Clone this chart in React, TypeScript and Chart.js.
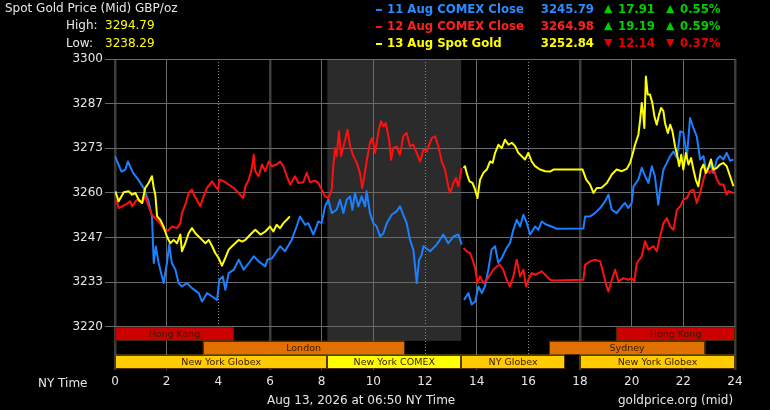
import React, { useEffect, useRef } from 'react';
import { Chart, registerables } from 'chart.js';

Chart.register(...registerables);

// ---------- data ----------
const blueHours = [0, 0.25, 0.4, 0.5, 0.7, 0.9, 1.1, 1.3, 1.43, 1.5, 1.58, 1.69, 1.88, 2.01, 2.1, 2.2, 2.34, 2.46, 2.59, 2.79, 2.98, 3.24, 3.37, 3.56, 3.76, 3.95, 4.04, 4.17, 4.27, 4.4, 4.6, 4.79, 4.98, 5.18, 5.37, 5.56, 5.82, 5.9, 6.08, 6.39, 6.58, 6.84, 7.03, 7.16, 7.36, 7.48, 7.68, 7.87, 8.0, 8.13, 8.26, 8.39, 8.58, 8.71, 8.84, 8.97, 9.1, 9.19, 9.29, 9.42, 9.55, 9.68, 9.74, 9.87, 10.0, 10.13, 10.26, 10.39, 10.52, 10.71, 10.9, 11.03, 11.16, 11.29, 11.42, 11.55, 11.68, 11.77, 11.87, 11.94, 12.2, 12.45, 12.71, 12.9, 13.1, 13.29, 13.42, 13.46, 13.51, 13.68, 13.81, 13.94, 14.07, 14.2, 14.32, 14.45, 14.58, 14.71, 14.84, 14.97, 15.16, 15.29, 15.42, 15.55, 15.68, 15.81, 15.94, 16.07, 16.26, 16.39, 16.52, 16.71, 16.9, 17.1, 18.13, 18.2, 18.39, 18.58, 18.78, 18.97, 19.1, 19.23, 19.42, 19.62, 19.74, 19.87, 20.0, 20.07, 20.26, 20.39, 20.52, 20.65, 20.78, 20.9, 21.03, 21.1, 21.23, 21.36, 21.49, 21.62, 21.75, 21.88, 22.0, 22.14, 22.26, 22.39, 22.52, 22.65, 22.78, 22.9, 23.03, 23.16, 23.3, 23.42, 23.55, 23.68, 23.81, 23.94];
const blueValues = [3271, 3266.4, 3267, 3269.4, 3266, 3264, 3261.6, 3257.5, 3253, 3239.1, 3244, 3239.1, 3233.1, 3239.1, 3244.6, 3239.1, 3237.1, 3233.1, 3232.1, 3233.1, 3231.6, 3230.1, 3227.6, 3230.1, 3229.1, 3228.1, 3234.1, 3235.1, 3231.1, 3236.1, 3237.1, 3240.1, 3237.1, 3239.1, 3241.1, 3239.6, 3238.1, 3240.1, 3240.5, 3244.1, 3242.6, 3246, 3250, 3253, 3250.5, 3251, 3247.6, 3251.5, 3251, 3256, 3258, 3254, 3255, 3258, 3254, 3258, 3259, 3255, 3260, 3256, 3259, 3256, 3260.5, 3254, 3251, 3250, 3247, 3248, 3251, 3253.5, 3254.5, 3256, 3253.5, 3251, 3246, 3243, 3233.1, 3240, 3241.5, 3244.1, 3242.6, 3244.6, 3247.6, 3245, 3247, 3247.6, 3244.6, null, 3228.1, 3230.1, 3226.7, 3227.6, 3232.1, 3230.1, 3232.1, 3237.1, 3243.1, 3244.1, 3239.1, 3240.6, 3243.6, 3245.1, 3249, 3252, 3250, 3253.5, 3251, 3247.6, 3250, 3249, 3251.5, 3250.5, 3250, 3249.3, 3249.4, 3253, 3253, 3254, 3255.5, 3257.5, 3259.5, 3255, 3254, 3256, 3257, 3255.5, 3257, 3262, 3264, 3267.5, 3265, 3263, 3268, 3265, 3256.5, 3261, 3267, 3269, 3271, 3272.4, 3270.5, 3278.4, 3278, 3271, 3282.4, 3279.4, 3276.9, 3270, 3271, 3266, 3269, 3266, 3270, 3271, 3270, 3272, 3269.6, 3270];

const redHours = [0.05, 0.14, 0.4, 0.59, 0.66, 0.85, 1.05, 1.17, 1.3, 1.43, 1.56, 1.69, 1.82, 1.95, 2.08, 2.21, 2.4, 2.53, 2.59, 2.72, 2.85, 2.98, 3.08, 3.17, 3.3, 3.43, 3.56, 3.76, 3.88, 3.99, 4.04, 4.21, 4.4, 4.6, 4.79, 4.96, 5.05, 5.18, 5.3, 5.37, 5.43, 5.56, 5.69, 5.82, 5.95, 6.07, 6.26, 6.39, 6.52, 6.65, 6.78, 6.97, 7.1, 7.29, 7.42, 7.55, 7.74, 7.87, 8.0, 8.13, 8.26, 8.39, 8.45, 8.52, 8.58, 8.67, 8.75, 8.88, 9.0, 9.1, 9.23, 9.36, 9.48, 9.57, 9.65, 9.74, 9.87, 9.96, 10.07, 10.2, 10.3, 10.39, 10.48, 10.61, 10.69, 10.77, 10.9, 11.03, 11.16, 11.29, 11.42, 11.55, 11.68, 11.81, 11.94, 12.07, 12.26, 12.39, 12.52, 12.65, 12.78, 12.9, 12.97, 13.1, 13.2, 13.29, 13.42, 13.46, 13.49, 13.61, 13.74, 13.84, 13.94, 14.03, 14.13, 14.26, 14.39, 14.52, 14.65, 14.78, 14.9, 15.03, 15.16, 15.29, 15.42, 15.55, 15.68, 15.81, 15.91, 16.0, 16.13, 16.26, 16.39, 16.52, 16.65, 16.84, 16.97, 18.13, 18.2, 18.39, 18.58, 18.78, 18.9, 19.03, 19.1, 19.23, 19.36, 19.49, 19.68, 19.87, 20.0, 20.1, 20.2, 20.39, 20.52, 20.65, 20.84, 20.97, 21.1, 21.23, 21.36, 21.49, 21.62, 21.75, 21.88, 22.0, 22.14, 22.26, 22.39, 22.52, 22.65, 22.78, 22.9, 23.03, 23.16, 23.3, 23.42, 23.55, 23.68, 23.74, 23.94];
const redValues = [3258, 3255.5, 3256.5, 3257.5, 3256, 3258, 3257, 3259, 3256, 3253.5, 3252.5, 3251.5, 3250, 3248.5, 3249, 3250, 3249.5, 3251, 3254, 3256.5, 3260, 3261, 3259, 3258, 3256, 3259, 3261.5, 3263.5, 3262, 3261, 3264, 3263.5, 3262.5, 3261.5, 3260, 3258.5, 3262, 3264, 3267.5, 3271.4, 3266.5, 3265, 3268.5, 3266.5, 3269.4, 3268, 3268.5, 3269.4, 3268, 3265, 3262.5, 3265, 3263, 3263.2, 3266, 3263.2, 3263.7, 3263, 3261, 3259, 3258.5, 3261, 3268, 3273.4, 3271, 3278.4, 3271, 3275, 3278.9, 3274, 3271, 3269, 3266, 3261.5, 3265, 3269.4, 3275, 3276.4, 3272, 3278.4, 3281.4, 3279.9, 3280.9, 3275.9, 3269.9, 3273.4, 3273.9, 3271.4, 3276.9, 3277.9, 3273.9, 3274.4, 3271.9, 3269.4, 3273, 3272.4, 3276.4, 3276.9, 3273.9, 3269.4, 3266.9, 3262, 3260, 3263, 3264.5, 3262, 3267.5, null, 3243.6, 3242.6, 3242.1, 3240.1, 3237.6, 3233.1, 3235.1, 3233.1, 3234.1, 3235.6, 3237.1, 3238.1, 3238.6, 3237.1, 3234.1, 3232.1, 3235.1, 3240.1, 3235.1, 3237.1, 3232.1, 3234.1, 3236.1, 3235.6, 3236.1, 3236.6, 3235.6, 3234.1, 3233.9, 3234.1, 3238.6, 3239.6, 3240.1, 3239.6, 3236.1, 3232.1, 3230.6, 3234.1, 3237.1, 3233.6, 3234.6, 3234.1, 3234.6, 3233.6, 3239.1, 3241.1, 3245.6, 3243.1, 3244.1, 3242.6, 3247, 3251, 3252.5, 3250, 3249, 3255, 3256, 3258, 3258.5, 3260.5, 3261, 3257, 3260, 3264, 3267, 3266, 3267.5, 3264, 3262.5, 3262.5, 3259.5, 3260.5, 3260];

const yellowHours = [0.01, 0.14, 0.34, 0.53, 0.66, 0.79, 0.92, 1.05, 1.17, 1.3, 1.43, 1.5, 1.56, 1.63, 1.75, 1.88, 2.01, 2.14, 2.27, 2.4, 2.53, 2.59, 2.72, 2.85, 2.98, 3.11, 3.24, 3.37, 3.5, 3.63, 3.76, 3.88, 4.01, 4.14, 4.27, 4.4, 4.6, 4.79, 4.92, 5.05, 5.24, 5.43, 5.63, 5.82, 6.0, 6.13, 6.26, 6.39, 6.52, 6.65, 6.77, 6.8, 13.49, 13.55, 13.61, 13.72, 13.84, 13.94, 14.03, 14.13, 14.26, 14.39, 14.52, 14.62, 14.71, 14.84, 14.97, 15.1, 15.23, 15.36, 15.49, 15.61, 15.74, 15.87, 16.0, 16.13, 16.26, 16.45, 16.65, 16.84, 16.97, 18.1, 18.24, 18.39, 18.52, 18.65, 18.84, 19.04, 19.23, 19.42, 19.62, 19.81, 19.94, 20.03, 20.13, 20.26, 20.33, 20.39, 20.45, 20.49, 20.55, 20.62, 20.71, 20.8, 20.88, 20.97, 21.06, 21.14, 21.23, 21.29, 21.4, 21.49, 21.58, 21.68, 21.76, 21.84, 21.92, 22.0, 22.1, 22.2, 22.3, 22.39, 22.48, 22.58, 22.68, 22.78, 22.87, 22.97, 23.07, 23.16, 23.3, 23.42, 23.55, 23.68, 23.81, 23.94];
const yellowValues = [3260.5, 3257.5, 3260.2, 3260.5, 3259.5, 3260, 3258, 3257, 3261.5, 3263, 3265, 3261.5, 3259.5, 3253, 3252, 3250, 3247, 3245, 3246, 3245, 3247.6, 3242.6, 3245, 3248, 3249.5, 3248, 3247, 3246, 3245, 3246, 3244.1, 3242.1, 3240.6, 3238.29, 3240.6, 3243.1, 3244.6, 3246, 3245.5, 3246, 3247.6, 3249, 3247.6, 3248.5, 3250, 3248.5, 3250.5, 3249.5, 3251, 3252, 3253, null, 3267.5, 3268, 3266, 3263.5, 3263, 3261, 3258.5, 3263.9, 3266, 3267, 3269.4, 3269, 3271.9, 3274.4, 3273.4, 3275.9, 3274.4, 3275, 3274, 3272, 3271, 3270, 3272, 3269.4, 3268, 3267, 3266.5, 3266.4, 3267, 3267, 3264, 3262.5, 3260, 3261.5, 3261.6, 3263, 3265.5, 3267, 3266.5, 3267.2, 3269, 3271.4, 3274.4, 3277.4, 3281.9, 3286.9, 3283.4, 3279.4, 3294.79, 3289.4, 3289.4, 3286.9, 3282.9, 3280.4, 3283.4, 3285.4, 3284.4, 3280.9, 3277.9, 3280.4, 3278.4, 3273.9, 3271.4, 3268, 3271.4, 3267, 3271.9, 3268.5, 3270.4, 3267, 3264, 3262, 3267, 3268.5, 3266, 3267.5, 3270, 3267, 3267.5, 3268.5, 3269, 3268, 3265, 3262];

const xTickValues = [0, 2, 4, 6, 8, 10, 12, 14, 16, 18, 20, 22, 24];
const yTickValues = [3220, 3233.33, 3246.67, 3260, 3273.33, 3286.67, 3300];
const yTickLabels = ['3220', '3233', '3247', '3260', '3273', '3287', '3300'];

const sessionLabels = ['Hong Kong', 'Hong Kong', 'London', 'Sydney', 'New York Globex', 'New York COMEX', 'NY Globex', 'New York Globex'];
const sessionRows = [0, 0, 1, 1, 2, 2, 2, 2];
const sessionStarts = [0, 19.4, 3.4, 16.8, 0, 8.22, 13.4, 18];
const sessionEnds = [4.6, 24, 11.2, 22.85, 8.22, 13.4, 17.42, 24];

const legendNames = ['11 Aug COMEX Close', '12 Aug COMEX Close', '13 Aug Spot Gold'];
const legendPrices = ['3245.79', '3264.98', '3252.84'];
const legendChanges = ['17.91', '19.19', '12.14'];
const legendPercents = ['0.55%', '0.59%', '0.37%'];
const legendUp = [true, true, false];
const highValue = '3294.79';
const lowValue = '3238.29';

// ---------- styles ----------
const sessionColors = ['#cc0000', '#cc0000', '#e07000', '#e07000', '#ffcc00', '#ffff00', '#ffcc00', '#ffcc00'];
const seriesColors = ['#1a80ff', '#ff1010', '#ffff00'];
const legendTextColors = ['#2a8cff', '#ff2020', '#ffff00'];
const darkGridHours = [0, 6, 18, 24];
const dottedGridHours = [4, 12, 16];
const FONT = '"DejaVu Sans", Verdana, sans-serif';

const toPoints = (h: number[], v: (number | null)[]) => h.map((x, i) => ({ x, y: v[i] }));

const sessionsPlugin = {
  id: 'sessions',
  beforeDraw(chart: any) {
    const { ctx, chartArea, scales } = chart;
    const x = scales.x, y = scales.y;
    const top0 = y.getPixelForValue(3220);
    const rowH = (chartArea.bottom - top0) / 3.1;
    const i = sessionLabels.indexOf('New York COMEX');
    const x0 = x.getPixelForValue(sessionStarts[i]);
    const x1 = x.getPixelForValue(sessionEnds[i]);
    ctx.save();
    ctx.fillStyle = '#2b2b2b';
    ctx.fillRect(x0, chartArea.top, x1 - x0, top0 + rowH - chartArea.top);
    ctx.restore();
  },
  beforeDatasetsDraw(chart: any) {
    const { ctx, chartArea, scales } = chart;
    const x = scales.x, y = scales.y;
    const top0 = y.getPixelForValue(3220);
    const rowH = (chartArea.bottom - top0) / 3.1;
    ctx.save();
    ctx.font = '9.5px ' + FONT;
    ctx.textAlign = 'center';
    ctx.textBaseline = 'middle';
    sessionLabels.forEach((label, i) => {
      const x0 = x.getPixelForValue(sessionStarts[i]);
      const x1 = x.getPixelForValue(sessionEnds[i]);
      const t = top0 + sessionRows[i] * rowH;
      ctx.fillStyle = sessionColors[i];
      ctx.fillRect(x0, t, x1 - x0, rowH);
      ctx.strokeStyle = 'rgba(70,40,0,0.9)';
      ctx.lineWidth = 1;
      ctx.strokeRect(Math.round(x0) + 0.5, Math.round(t) + 0.5, Math.round(x1 - x0) - 1, Math.round(rowH) - 1);
      ctx.fillStyle = '#3a1800';
      ctx.fillText(label, (x0 + x1) / 2, t + rowH / 2 + 0.5);
    });
    ctx.restore();
  },
};

export default function App() {
  const canvasRef = useRef<HTMLCanvasElement | null>(null);

  useEffect(() => {
    document.body.style.margin = '0';
    document.body.style.background = '#000';
    const canvas = canvasRef.current;
    if (!canvas) return;
    const chart = new Chart(canvas, {
      type: 'line',
      data: {
        datasets: [
          { label: legendNames[2], data: toPoints(yellowHours, yellowValues) as any, borderColor: seriesColors[2] },
          { label: legendNames[1], data: toPoints(redHours, redValues) as any, borderColor: seriesColors[1] },
          { label: legendNames[0], data: toPoints(blueHours, blueValues) as any, borderColor: seriesColors[0] },
        ],
      },
      options: {
        responsive: false,
        animation: false,
        spanGaps: false,
        parsing: false as any,
        elements: {
          point: { radius: 0, hoverRadius: 0 },
          line: { borderWidth: 2, tension: 0, borderJoinStyle: 'round', fill: false },
        },
        layout: { padding: { top: 59, right: 35, left: 0, bottom: 0 } },
        plugins: {
          legend: { display: false },
          tooltip: { enabled: false },
          title: { display: false },
        },
        scales: {
          x: {
            type: 'linear',
            min: 0,
            max: 24,
            afterBuildTicks: (s: any) => { s.ticks = xTickValues.map((v) => ({ value: v })); },
            afterFit: (s: any) => { s.height = 40; },
            ticks: {
              color: '#e6e6e6',
              font: { family: FONT, size: 12 },
              padding: 5,
              maxRotation: 0,
              autoSkip: false,
              callback: (v: any) => String(v),
            },
            grid: {
              drawTicks: false,
              color: (c: any) => (darkGridHours.includes(c.tick?.value) ? '#3c3c3c' : dottedGridHours.includes(c.tick?.value) ? '#8a8a8a' : '#6a6a6a'),
              lineWidth: (c: any) => (darkGridHours.includes(c.tick?.value) ? 2.5 : 1),
            },
            border: {
              display: false,
              dash: (c: any) => (dottedGridHours.includes(c.tick?.value) ? [1, 2] : []),
            },
          },
          y: {
            type: 'linear',
            min: 3207.16,
            max: 3300,
            afterBuildTicks: (s: any) => { s.ticks = yTickValues.map((v) => ({ value: v })); },
            afterFit: (s: any) => { s.width = 115; },
            ticks: {
              color: '#e6e6e6',
              font: { family: FONT, size: 12 },
              padding: 2,
              autoSkip: false,
              callback: (_v: any, i: number) => yTickLabels[i],
            },
            grid: { color: '#6a6a6a', lineWidth: 1, tickLength: 10, drawTicks: true },
            border: { display: false },
          },
        },
      } as any,
      plugins: [sessionsPlugin],
    });
    return () => chart.destroy();
  }, []);

  const txt = (extra: any) => ({
    position: 'absolute' as const,
    whiteSpace: 'nowrap' as const,
    lineHeight: '14px',
    fontSize: 12,
    ...extra,
  });
  const rowTops = [2, 19, 36];

  return (
    <div style={{ position: 'fixed', left: 0, top: 0, width: 770, height: 410, background: '#000', overflow: 'hidden', fontFamily: FONT }}>
      <canvas ref={canvasRef} width={770} height={410} style={{ position: 'absolute', left: 0, top: 0 }} />
      <div style={txt({ left: 5, top: 1, color: '#e6e6e6' })}>Spot Gold Price (Mid) GBP/oz</div>
      <div style={txt({ left: 66, top: 18, color: '#e6e6e6' })}>High:</div>
      <div style={txt({ left: 105, top: 18, color: '#ffff00' })}>{highValue}</div>
      <div style={txt({ left: 66, top: 36, color: '#e6e6e6' })}>Low:</div>
      <div style={txt({ left: 105, top: 36, color: '#ffff00' })}>{lowValue}</div>
      {legendNames.map((name, i) => (
        <React.Fragment key={name}>
          <div style={{ position: 'absolute', left: 376, top: rowTops[i] + 7, width: 6, height: 2, background: seriesColors[i] }} />
          <div style={txt({ left: 387, top: rowTops[i], color: legendTextColors[i], fontWeight: 'bold', fontSize: 11.7 })}>{name}</div>
          <div style={txt({ left: 524, width: 70, textAlign: 'right', top: rowTops[i], color: legendTextColors[i], fontWeight: 'bold', fontSize: 11.7 })}>{legendPrices[i]}</div>
          <div style={txt({ left: 604, top: rowTops[i], color: legendUp[i] ? '#00d000' : '#e80000', fontSize: 11 })}>{legendUp[i] ? '▲' : '▼'}</div>
          <div style={txt({ left: 618, top: rowTops[i], color: legendUp[i] ? '#00d000' : '#e80000', fontWeight: 'bold', fontSize: 11.7 })}>{legendChanges[i]}</div>
          <div style={txt({ left: 666, top: rowTops[i], color: legendUp[i] ? '#00d000' : '#e80000', fontSize: 11 })}>{legendUp[i] ? '▲' : '▼'}</div>
          <div style={txt({ left: 680, top: rowTops[i], color: legendUp[i] ? '#00d000' : '#e80000', fontWeight: 'bold', fontSize: 11.7 })}>{legendPercents[i]}</div>
        </React.Fragment>
      ))}
      <div style={txt({ left: 38, top: 376, color: '#e6e6e6' })}>NY Time</div>
      <div style={txt({ left: 267, top: 393, color: '#e6e6e6' })}>Aug 13, 2026 at 06:50 NY Time</div>
      <div style={txt({ left: 618, top: 393, color: '#e6e6e6' })}>goldprice.org (mid)</div>
    </div>
  );
}
